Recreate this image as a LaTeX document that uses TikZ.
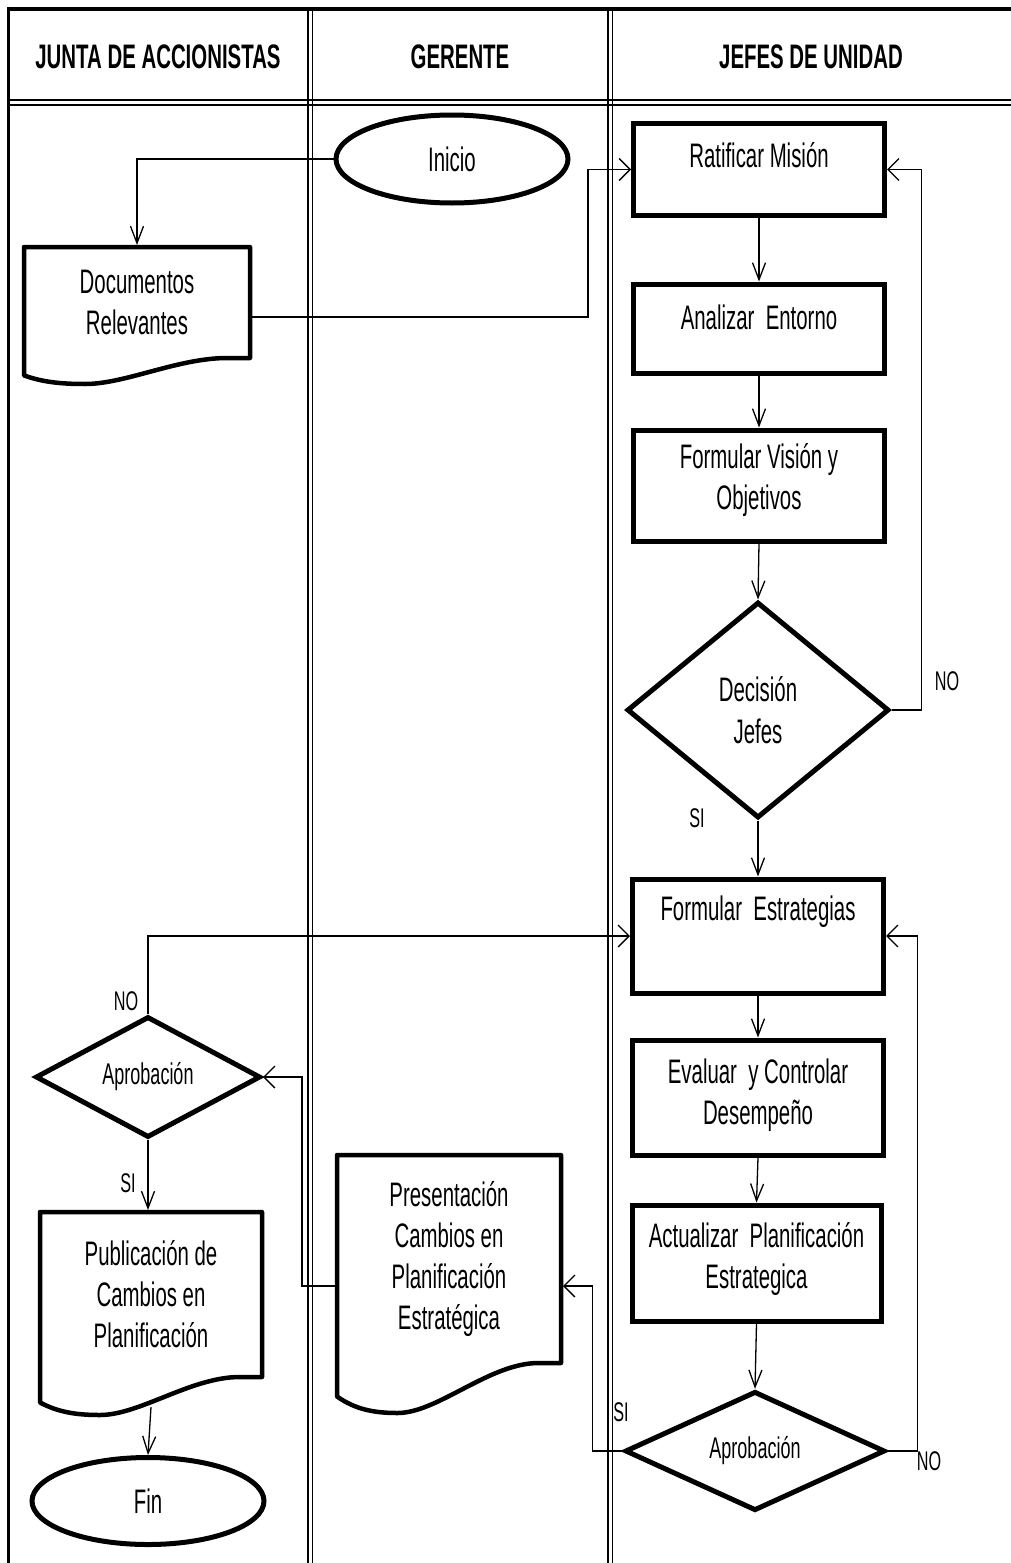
\documentclass[tikz,border=0pt]{standalone}
\usepackage{fontspec}
\setmainfont{Liberation Sans}[FakeStretch=0.6]
\usetikzlibrary{shapes.geometric,arrows.meta,calc}

\tikzset{
  proc/.style={draw, line width=5pt, rectangle, inner sep=0pt, minimum width=251pt},
  term/.style={draw, line width=5pt, ellipse, inner sep=0pt,
               minimum width=232pt, font=\fontsize{34}{41}\selectfont},
  decide/.style={draw, line width=5pt, diamond, inner sep=0pt, align=center},
  docarea/.style={rectangle, inner sep=0pt, outer sep=0pt, align=center,
                  font=\fontsize{34}{41}\selectfont},
  docline/.style={line width=4.5pt, line join=round},
  txt/.style={align=center, inner sep=0pt, font=\fontsize{34}{41}\selectfont},
  small/.style={font=\fontsize{30}{34}\selectfont},
  tag/.style={inner sep=0pt, font=\fontsize{27}{30}\selectfont},
  head/.style={inner sep=0pt, font=\bfseries\fontsize{34}{38}\selectfont},
  conn/.style={line width=1.3pt},
  av/.style={conn, -{Straight Barb[length=17pt,width=13pt]}},
  ah/.style={conn, -{Straight Barb[length=11pt,width=22pt]}},
}

% outline of a document symbol around a docarea node; #2 = depth of the wavy foot
\newcommand{\docoutline}[2]{%
  \draw[docline]
    (#1.south east) -- (#1.north east) -- (#1.north west)
    -- ($(#1.south west)+(0,0.67*#2)$)
    .. controls ($(#1.south west)!0.08!(#1.south east)+(0,0.92*#2)$)
            and ($(#1.south west)!0.16!(#1.south east)+(0,#2)$)
    .. ($(#1.south west)!0.27!(#1.south east)+(0,#2)$)
    .. controls ($(#1.south west)!0.45!(#1.south east)+(0,#2)$)
            and ($(#1.south west)!0.68!(#1.south east)$)
    .. ($(#1.south west)!0.9!(#1.south east)$)
    -- cycle;}

\begin{document}
\begin{tikzpicture}[x=1pt, y=-1pt]
\useasboundingbox (0,0) rectangle (1011,1563);

% ---- swimlane frame ----
\draw[line width=3.5pt] (7,9) -- (1011,9);
\draw[line width=3pt] (8.5,7.5) -- (8.5,1563);
\draw[line width=2.5pt] (7,100) -- (1011,100);
\draw[line width=1.8pt] (7,105) -- (1011,105);
\foreach \x in {308,312.5,608,612.5}
  \draw[line width=1.8pt] (\x,9) -- (\x,1563);

\node[head] (hjunta)   at (158,57) {JUNTA DE ACCIONISTAS};
\node[head] (hgerente) at (460,57) {GERENTE};
\node[head] (hjefes)   at (811,57) {JEFES DE UNIDAD};

% ---- terminals ----
\node[term, minimum height=88pt] (inicio) at (452,159) {Inicio};
\node[term, minimum height=87pt] (fin)    at (148,1501) {Fin};

% ---- documents ----
\node[docarea, minimum width=226pt, minimum height=111pt] (docrel) at (137,302.5)
  {Documentos\\Relevantes};
\docoutline{docrel}{26}
\node[docarea, minimum width=222pt, minimum height=165pt] (pub) at (151,1294.5)
  {Publicación de\\Cambios en\\Planificación};
\docoutline{pub}{38}
\node[docarea, minimum width=224pt, minimum height=208pt] (pres) at (449,1259)
  {Presentación\\Cambios en\\Planificación\\Estratégica};
\docoutline{pres}{50}

% ---- process boxes ----
\node[proc, minimum height=92pt]  (ratificar)  at (759,169.5) {};
\node[txt] (ratificarT) at (759,155) {Ratificar Misión};
\node[proc, minimum height=89pt]  (analizar)   at (759,328.5) {};
\node[txt] (analizarT) at (759,317) {Analizar\ \ Entorno};
\node[proc, minimum height=111pt] (formvis)    at (759,485.5) {};
\node[txt] (formvisT) at (759,480) {Formular Visión y\\Objetivos};
\node[proc, minimum height=114pt] (formest)    at (758,936) {};
\node[txt] (formestT) at (758,912) {Formular\ \ Estrategias};
\node[proc, minimum height=115pt] (evaluar)    at (758,1097.5) {};
\node[txt] (evaluarT) at (758,1095) {Evaluar\ \ y Controlar\\Desempeño};
\node[proc, minimum height=116pt, minimum width=249pt] (actualizar) at (756.5,1263) {};
\node[txt] (actualizarT) at (756.5,1259) {Actualizar\ \ Planificación\\Estrategica};

% ---- decisions ----
\node[decide, minimum width=262pt, minimum height=216pt, font=\fontsize{34}{42}\selectfont]
  (decision) at (758,710) {Decisión\\Jefes};
\node[decide, minimum width=225pt, minimum height=121pt, small] (aprob1) at (148,1077) {Aprobación};
\node[decide, minimum width=260pt, minimum height=119pt, small] (aprob2) at (755,1451) {Aprobación};

% ---- connectors ----
\draw[av, shorten >=2pt] (inicio.west) -| (docrel.north);
\draw[ah] ([yshift=-14.5pt]docrel.east) -| ([xshift=-43pt]ratificar.west) -- (ratificar.west);
\draw[av] (ratificar.south) -- (analizar.north);
\draw[av] (analizar.south) -- (formvis.north);
\draw[av] (formvis.south) -- (decision.north);
\draw[ah] (decision.east) -- ++(30,0) |- (ratificar.east);
\draw[av] (decision.south) -- (formest.north);
\draw[av] (formest.south) -- (evaluar.north);
\draw[av] (evaluar.south) -- (actualizar.north);
\draw[av] (actualizar.south) -- (aprob2.north);
\draw[ah, shorten >=2pt] (aprob2.west) -- ++(-30,0) |- ([yshift=-27pt]pres.east);
\draw[ah] (aprob2.east) -- ++(30,0) |- (formest.east);
\draw[ah] ([yshift=-27pt]pres.west) -- ++(-35,0) |- (aprob1.east);
\draw[ah] (aprob1.north) |- (formest.west);
\draw[av, shorten >=2pt] (aprob1.south) -- (aprob1.south |- pub.north);
\draw[av] ([yshift=-30pt]pub.south) -- (fin.north);

% ---- branch labels ----
\node[tag] (noA) at (947,681)  {NO};
\node[tag] (siA) at (697,818)  {SI};
\node[tag] (noB) at (126,1001) {NO};
\node[tag] (siB) at (128,1183) {SI};
\node[tag] (siC) at (621,1412) {SI};
\node[tag] (noC) at (929,1461) {NO};
\end{tikzpicture}
\end{document}
